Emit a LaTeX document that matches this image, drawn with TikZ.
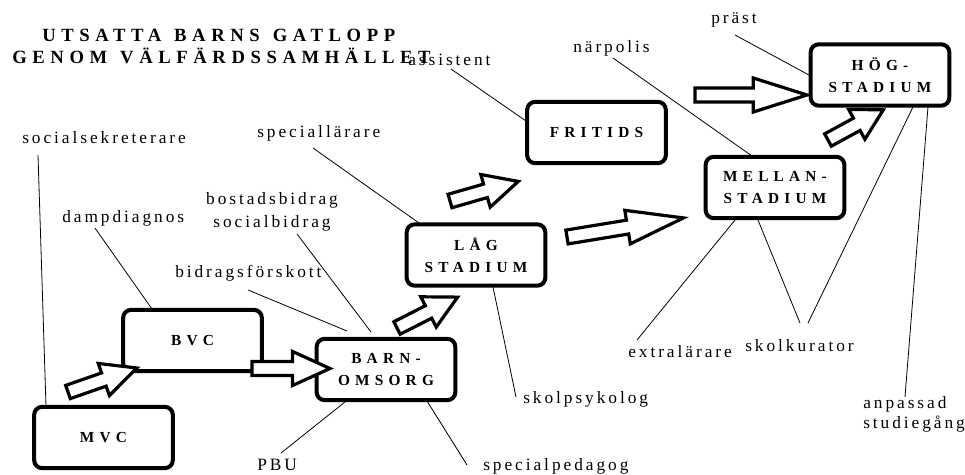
\documentclass[tikz,border=0pt]{standalone}
\usepackage{fontspec}
\setmainfont{Liberation Serif}
\newfontfamily\lblfamily[LetterSpace=17]{Liberation Serif}
\newfontfamily\boxfamily[LetterSpace=34]{Liberation Serif}
\newfontfamily\ttlfamily[LetterSpace=30]{Liberation Serif}
\newcommand{\blockarr}[4]{%
  \begin{scope}[shift={(#1,#2)},rotate=#3]
    \draw[barrow] (0,-7) -- ({#4*0.52},-7) -- ({#4*0.52},-17) -- (#4,0)
      -- ({#4*0.52},17) -- ({#4*0.52},7) -- (0,7) -- cycle;
  \end{scope}}
\begin{document}
\begin{tikzpicture}[x=0.75pt,y=-0.75pt,
  stagebox/.style={draw,line width=3pt,rounded corners=6pt,fill=white,
    minimum width=104pt,minimum height=46pt,align=center,inner sep=0pt,
    font=\boxfamily\bfseries\fontsize{11.5}{16.5}\selectfont},
  lbl/.style={inner sep=0pt,anchor=base west,font=\lblfamily\fontsize{13}{16}\selectfont},
  ttl/.style={inner sep=0pt,anchor=base west,font=\ttlfamily\bfseries\fontsize{14}{16}\selectfont},
  leader/.style={line width=0.6pt},
  barrow/.style={line width=2.4pt,fill=white,line join=miter}]
\useasboundingbox (0,0) rectangle (965,475);

% title
\node[ttl] (t1) at (42,41) {UTSATTA\hspace{2pt} BARNS\hspace{2pt} GATLOPP};
\node[ttl] (t2) at (12,63) {GENOM\hspace{2pt} VÄLFÄRDSSAMHÄLLET};

% labels
\node[lbl] (soc) at (22,143) {socialsekreterare};
\node[lbl] (damp) at (62,222) {dampdiagnos};
\node[lbl,anchor=base] (bost) at (272,204) {bostadsbidrag};
\node[lbl,anchor=base] (socb) at (272,227) {socialbidrag};
\node[lbl] (bidr) at (175,277) {bidragsförskott};
\node[lbl] (spl) at (257,137) {speciallärare};
\node[lbl] (ass) at (408,65) {assistent};
\node[lbl] (narp) at (573,52) {närpolis};
\node[lbl] (prast) at (711,23) {präst};
\node[lbl] (extr) at (628,357) {extralärare};
\node[lbl] (skk) at (745,351) {skolkurator};
\node[lbl] (skp) at (523,403) {skolpsykolog};
\node[lbl] (spp) at (483,470) {specialpedagog};
\node[lbl] (pbu) at (257,470) {PBU};
\node[lbl] (anp) at (863,408) {anpassad};
\node[lbl] (stu) at (863,428) {studiegång};

% leader end points
\coordinate (a1) at (38,155);   \coordinate (b1) at (46,406);
\coordinate (a2) at (95,228);   \coordinate (b2) at (152,309);
\coordinate (a3) at (297,234);  \coordinate (b3) at (371,332);
\coordinate (a4) at (248,290);  \coordinate (b4) at (347,331);
\coordinate (a5) at (313,148);  \coordinate (b5) at (419,223);
\coordinate (a6) at (451,69);   \coordinate (b6) at (526,121);
\coordinate (a7) at (613,58);   \coordinate (b7) at (752,156);
\coordinate (a8) at (735,35);   \coordinate (b8) at (809,75);
\coordinate (a9) at (913,107);  \coordinate (b9) at (808,323);
\coordinate (a10) at (928,107); \coordinate (b10) at (905,397);
\coordinate (a11) at (735,220); \coordinate (b11) at (637,340);
\coordinate (a12) at (758,220); \coordinate (b12) at (800,323);
\coordinate (a13) at (493,287); \coordinate (b13) at (516,397);
\coordinate (a14) at (427,401); \coordinate (b14) at (467,465);
\coordinate (a15) at (345,402); \coordinate (b15) at (281,453);
\foreach \i in {1,...,15} {\draw[leader] (a\i) -- (b\i);}

% boxes
\node[stagebox] (mvc) at (103.5,437.5) {MVC};
\node[stagebox] (bvc) at (192.5,340.5) {BVC};
\node[stagebox] (barn) at (386,369.5) {BARN-\\OMSORG};
\node[stagebox] (lag) at (476,255) {LÅG\\STADIUM};
\node[stagebox] (frit) at (596.5,132.5) {FRITIDS};
\node[stagebox] (mell) at (775,187.5) {MELLAN-\\STADIUM};
\node[stagebox] (hog) at (880,75) {HÖG-\\STADIUM};

% block arrows
\blockarr{68}{392}{19.2}{73}
\blockarr{252}{368.5}{0}{78}
\blockarr{397}{328}{27}{68}
\blockarr{450}{201}{16}{71}
\blockarr{567}{237}{9.3}{118}
\blockarr{695}{95}{0}{112}
\blockarr{828}{140}{28.6}{63}
\end{tikzpicture}
\end{document}
